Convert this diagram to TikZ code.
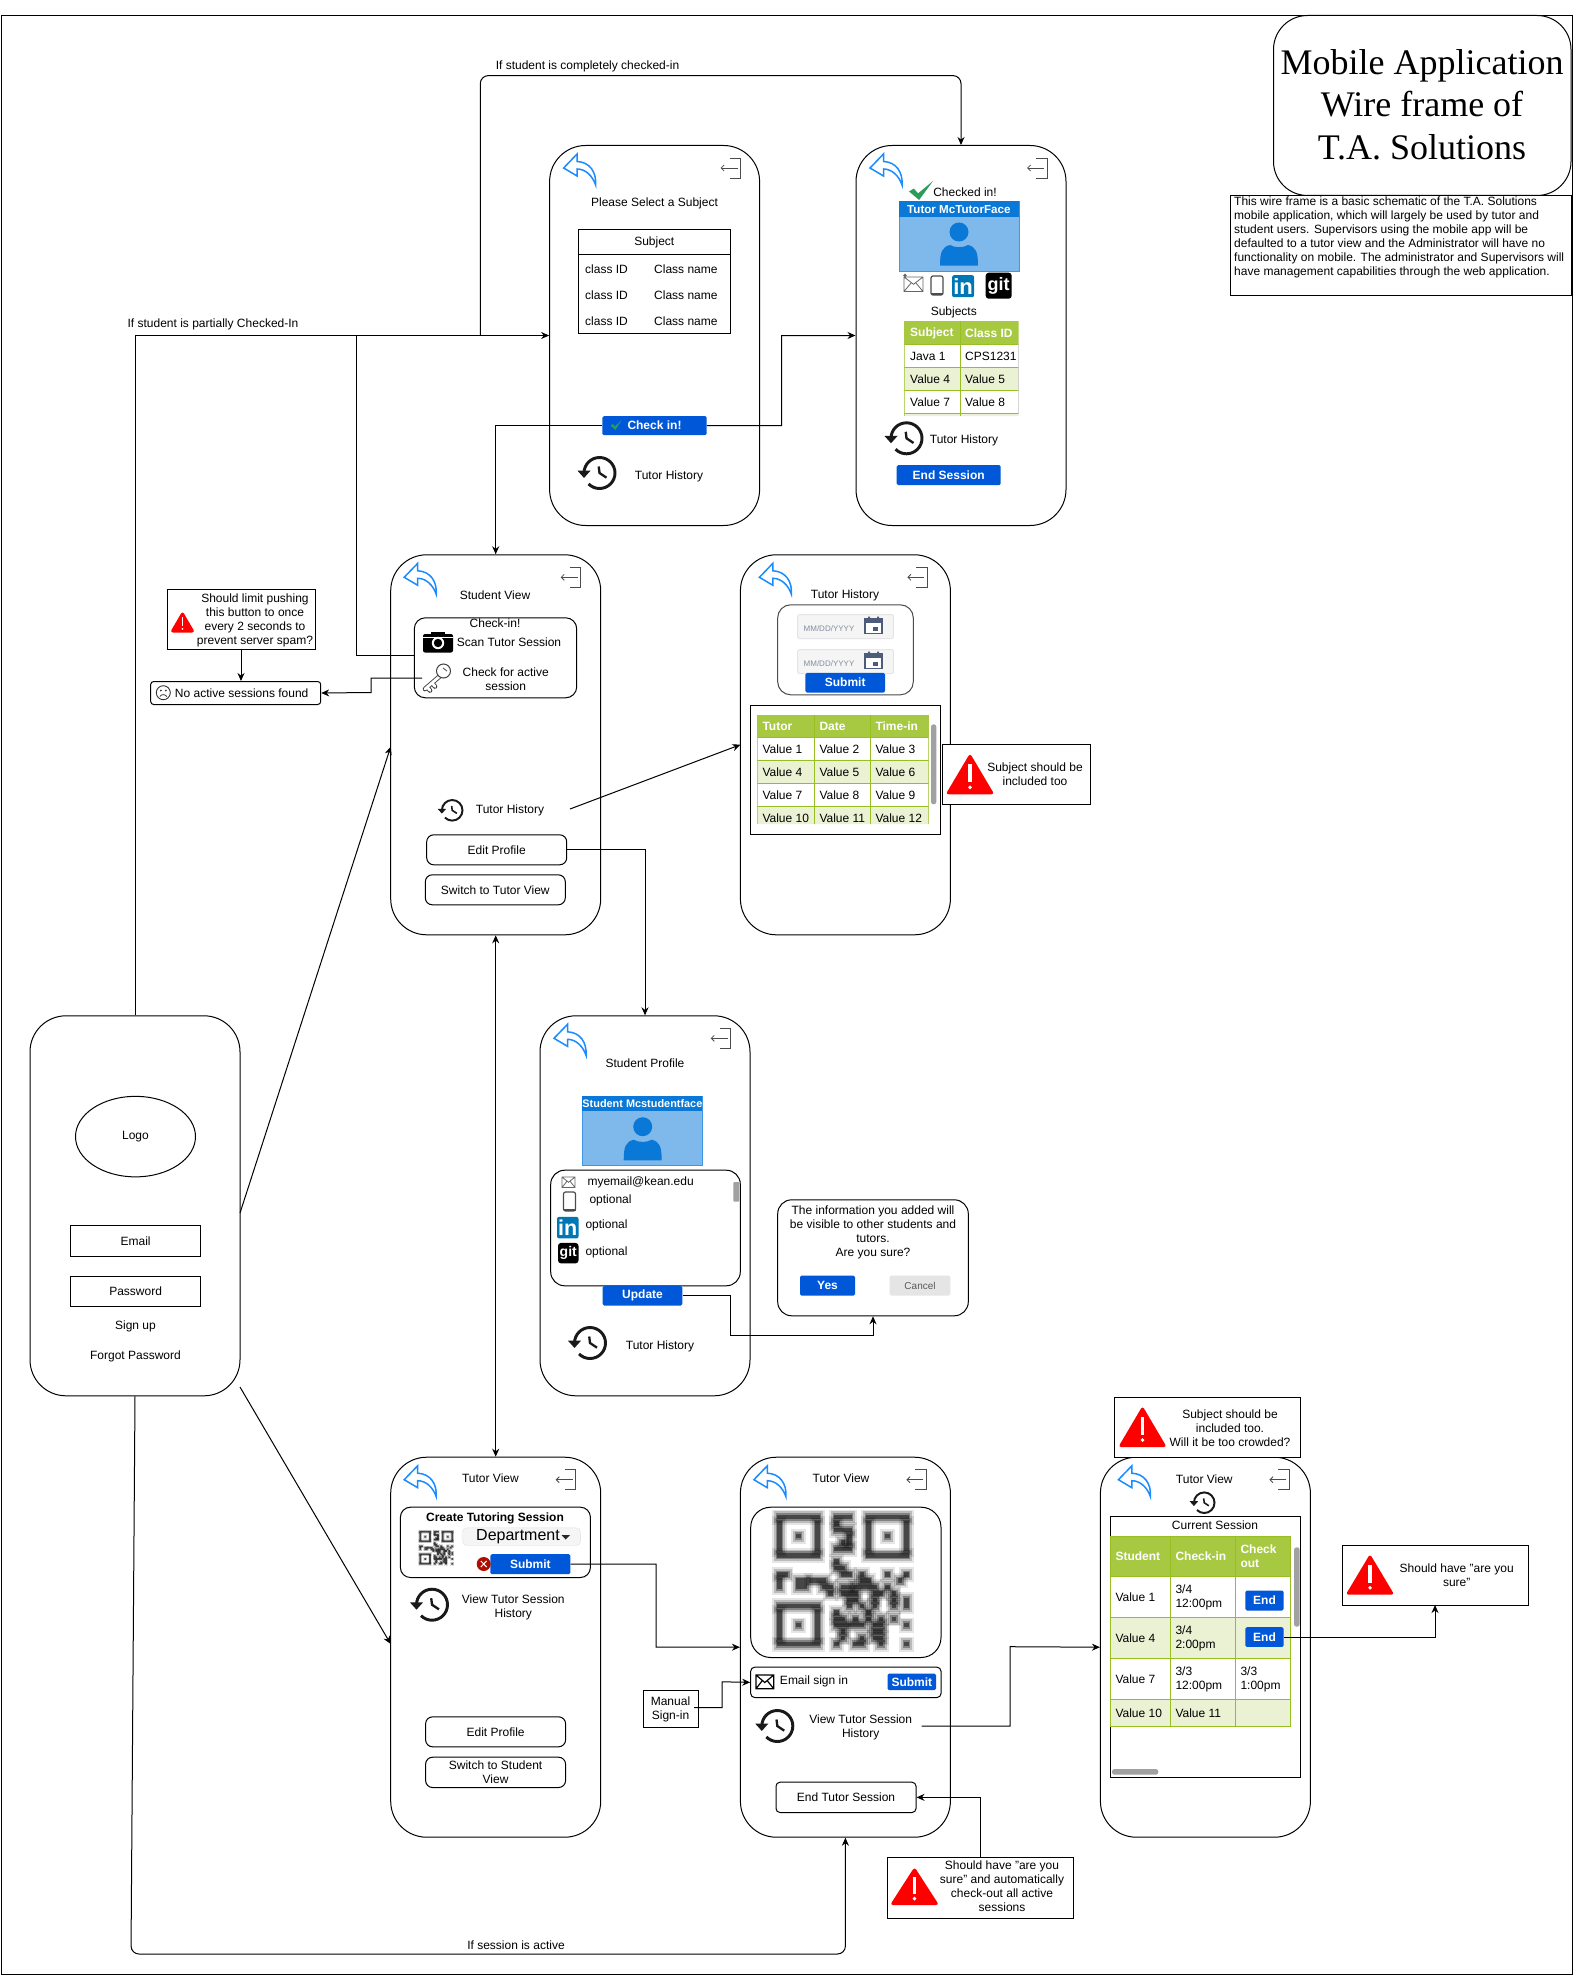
\documentclass[tikz,border=0pt]{standalone}
\usepackage{fontspec}
\setmainfont{Liberation Sans}
\newfontfamily\titlefont{Liberation Serif}
\usetikzlibrary{positioning,shapes.geometric,calc,arrows.meta}
\definecolor{btnblue}{HTML}{0057D8}
\definecolor{backblue}{HTML}{1A8CFF}
\definecolor{cardblue}{HTML}{7FB8EA}
\definecolor{cardedge}{HTML}{3D97E5}
\definecolor{personblue}{HTML}{0A78D6}
\definecolor{headgreen}{HTML}{A7C942}
\definecolor{altgreen}{HTML}{EAF2D3}
\definecolor{gridgreen}{HTML}{98BF21}
\definecolor{linkblue}{HTML}{0077B5}
\definecolor{calslate}{HTML}{4F5B7A}
\definecolor{tickgreen}{HTML}{2D9C5A}

\begin{document}
\begin{tikzpicture}[x=1pt,y=-1pt]

	\tikzset{every node/.style={inner sep=0pt,font=\fontsize{12}{14}\selectfont,align=center,yshift=-.6pt}}
	\tikzset{every coordinate node/.style={yshift=.6pt}}
	\tikzset{box/.style 2 args={anchor=north west,minimum width=#1 pt,minimum height=#2 pt,yshift=.6pt,xshift=-.5pt}}
	\tikzset{phonestyle/.style={draw,fill=white,line width=1pt,rounded corners=36pt,box={210}{380}}}
	\tikzset{framestyle/.style={draw,fill=white,line width=1pt}}
	\tikzset{softstyle/.style={framestyle,rounded corners=7pt}}
	\tikzset{btnstyle/.style={fill=btnblue,rounded corners=1.5pt,text=white,font=\fontsize{12}{14}\selectfont\bfseries}}
	\tikzset{lefttext/.style={anchor=west,align=left}}
	\tikzset{headtext/.style={lefttext,text=white,font=\fontsize{12}{14}\selectfont\bfseries}}
	\tikzset{linestyle/.style={line width=1pt}}
	\tikzset{arrowstyle/.style={linestyle,-{Stealth[length=8pt,width=7pt]}}}
	\tikzset{gridstyle/.style={gridgreen,line width=1pt}}
	\tikzset{backstyle/.style={backblue,line width=1.5pt,fill=white,line join=miter}}
	\tikzset{exitstyle/.style={black!70,line width=.8pt}}
	\tikzset{scrollstyle/.style={fill=black!37,rounded corners=2.5pt}}

	\newcommand\backIcon[2]
	{
		\draw[backstyle] (#1,#2+14) -- (#1+13.5,#2) -- (#1+13.5,#2+7.5)
		.. controls (#1+26,#2+8) and (#1+33,#2+18) .. (#1+32,#2+31)
		.. controls (#1+29,#2+22) and (#1+22,#2+15) .. (#1+13.5,#2+15)
		-- (#1+13.5,#2+22) -- cycle;
	}
	\newcommand\exitIcon[2]
	{
		\draw[exitstyle] (#1+9,#2) -- (#1+20,#2) -- (#1+20,#2+20) -- (#1+9,#2+20);
		\draw[exitstyle,-{Straight Barb[length=3pt,width=6pt]}] (#1+17,#2+10) -- (#1,#2+10);
	}
	\newcommand\makePhone[5] % {name}{left}{top}{back dx}{exit dx}
	{
		\node[phonestyle] at (#2,#3) (#1) {};
		\backIcon{#2+#4}{#3+9}
		\exitIcon{#2+#5}{#3+13}
	}
	\newcommand\historyIcon[3] % {x}{y}{radius}
	{
		\draw[line width=#3*0.19pt,black!90] (#1-#3,#2) arc (-180:135:#3);
		\fill[black!90] (#1-1.42*#3,#2-.15*#3) -- (#1-.58*#3,#2-.15*#3) -- (#1-#3,#2+.32*#3) -- cycle;
		\draw[line width=#3*0.15pt,black!90] (#1-.05*#3,#2-.42*#3) -- (#1,#2) -- (#1+.45*#3,#2+.3*#3);
	}
	\newcommand\tickIcon[5] % {x}{y}{w}{h}{colour}
	{
		\fill[#5] (#1,#2+.55*#4) -- (#1+.2*#3,#2+.4*#4) -- (#1+.38*#3,#2+.65*#4) -- (#1+#3,#2) -- (#1+.42*#3,#2+#4) -- cycle;
	}
	\newcommand\warnIcon[4] % {x}{y}{w}{h}
	{
		\fill[red,rounded corners=3pt] (#1+#3/2,#2) -- (#1+#3,#2+#4) -- (#1,#2+#4) -- cycle;
		\fill[white] (#1+.465*#3,#2+.26*#4) rectangle (#1+.535*#3,#2+.7*#4);
		\fill[white] (#1+#3/2,#2+.83*#4) circle[radius=.04*#3];
	}
	\newcommand\personIcon[2]
	{
		\fill[personblue] (#1,#2) circle[radius=9.5];
		\fill[personblue] (#1-19,#2+33.7) .. controls (#1-19,#2+20) and (#1-17,#2+15) .. (#1-9,#2+13)
		.. controls (#1-4,#2+16) and (#1+4,#2+16) .. (#1+9,#2+13)
		.. controls (#1+17,#2+15) and (#1+19,#2+20) .. (#1+19,#2+33.7) -- cycle;
	}
	\newcommand\makeCard[6] % {name}{left}{top}{width}{height}{text}
	{
		\node[box={#4}{#5},draw=cardedge,fill=cardblue,line width=1pt] at (#2,#3) (#1) {};
		\node[box={#4}{15.5},fill=personblue,text=white,font=\fontsize{11.6}{14}\selectfont\bfseries] at (#2,#3) (#1head) {#6};
	}
	\newcommand\mailIcon[4]
	{
		\draw[black!60,line width=.8pt] (#1,#2) rectangle (#1+#3,#2+#4)
		(#1,#2) -- (#1+#3/2,#2+#4/2) -- (#1+#3,#2)
		(#1,#2+#4) -- (#1+.38*#3,#2+.4*#4)
		(#1+#3,#2+#4) -- (#1+.62*#3,#2+.4*#4);
	}
	\newcommand\handsetIcon[4]
	{
		\draw[black!70,line width=1.2pt,rounded corners=2pt] (#1,#2) rectangle (#1+#3,#2+#4);
		\fill[black!70] (#1,#2+#4-2) rectangle (#1+#3,#2+#4);
	}
	\newcommand\linkIcon[4] % {name}{x}{y}{size}
	{
		\node[box={#4}{#4},fill=linkblue,rounded corners=2pt,text=white,font=\fontsize{#4}{#4}\selectfont\bfseries] at (#2,#3) (#1) {in};
	}
	\newcommand\gitIcon[5] % {name}{x}{y}{size}{font size}
	{
		\node[box={#4}{#4},fill=black,rounded corners=3pt,text=white,font=\fontsize{#5}{#5}\selectfont\bfseries] at (#2,#3) (#1) {git};
	}
	\newcommand\calIcon[2]
	{
		\draw[calslate,line width=1.6pt,fill=white] (#1,#2+2) rectangle (#1+17,#2+17);
		\fill[calslate] (#1,#2+2) rectangle (#1+17,#2+6);
		\fill[calslate] (#1+3,#2) rectangle (#1+5,#2+3) (#1+12,#2) rectangle (#1+14,#2+3);
		\fill[calslate] (#1+8,#2+10) rectangle (#1+13,#2+14);
	}
	\newcommand\dateField[2] % {name}{top}
	{
		\node[box={95.6}{24},draw=black!10,fill=black!4,line width=1pt,rounded corners=1.5pt] at (797.7,#2) (#1) {};
		\node[text=calslate!70,font=\fontsize{8}{10}\selectfont] at (829,#2+14) (#1text) {MM/DD/YYYY};
		\calIcon{865}{#2+2.5}
	}
	% rough module runs, row / first col / last col / last row, for a 21 wide code
	\newcommand\qrData{0/0/6/0,6/0/6/6,1/0/0/5,1/6/6/5,3/3/3/3,0/14/20/0,6/14/20/6,1/14/14/5,1/20/20/5,3/17/17/3,14/0/6/14,20/0/6/20,15/0/0/19,15/6/6/19,17/3/3/17,
		0/9/11/0,1/9/9/1,2/9/11/2,3/11/11/4,4/10/10/4,5/9/11/5,7/9/9/7,8/9/10/8,9/10/11/9,
		9/0/1/9,9/13/13/9,9/17/17/9,9/20/20/9,
		10/0/0/11,10/5/7/10,10/3/4/11,10/13/14/10,10/19/19/10,
		11/7/8/11,11/10/11/11,11/12/15/11,11/17/17/11,
		12/8/8/12,12/10/12/12,12/15/16/12,12/18/18/12,
		13/11/12/13,13/15/15/13,13/18/18/13,13/20/20/14,
		14/11/11/14,14/13/13/14,14/15/15/14,14/18/18/14,
		15/9/9/15,15/14/14/15,
		16/9/10/16,16/12/12/16,16/14/14/16,16/16/16/16,16/18/18/16,
		17/9/13/17,17/15/16/17,17/20/20/17,
		18/10/10/18,18/15/16/18,
		19/10/10/19,19/13/13/19,19/15/16/19,
		20/9/9/20,20/12/13/20,20/16/16/20,20/20/20/20}
	\newcommand\qrPass[5] % {x}{y}{module}{grow}{opacity}
	{
		\foreach \r/\a/\b/\e in \qrData
		{
			\fill[black,fill opacity=#5] (#1+\a*#3-#4,#2+\r*#3-#4) rectangle (#1+\b*#3+#3+#4,#2+\e*#3+#3+#4);
		}
	}
	\newcommand\qrCode[3]
	{
		\qrPass{#1}{#2}{#3}{#3*.7}{.1}
		\qrPass{#1}{#2}{#3}{#3*.4}{.18}
		\qrPass{#1}{#2}{#3}{#3*.1}{.3}
		\qrPass{#1}{#2}{#3}{-#3*.15}{.45}
	}

	\useasboundingbox (0,0) rectangle (1572,1977);
	\node[framestyle,box={1571}{1959}] at (1,15) (pageframe) {};

	\makePhone{subject}{549.6}{145}{14}{171}
	\makePhone{checked}{856}{145}{14}{171}
	\makePhone{student}{390.7}{554.3}{13.5}{170}
	\makePhone{history}{740.4}{554.3}{19}{167}
	\makePhone{profile}{540}{1015.3}{14}{170.7}
	\node[phonestyle] at (30,1015.3) (login) {};
	\makePhone{tutor}{390.7}{1456.7}{13.5}{165}
	\makePhone{qrview}{740.4}{1456.7}{13.5}{166}
	\makePhone{session}{1100.4}{1456.7}{18}{169}

	\node[framestyle,rounded corners=34pt,box={297.5}{180}] at (1273.5,15) (titlebox) {};
	\node[font=\titlefont\fontsize{36}{42.6}\selectfont] at (1422,104) (titletext) {Mobile Application\\Wire frame of\\T.A. Solutions};
	\node[framestyle,box={341}{100}] at (1230.5,195) (notebox) {};
	\node[anchor=north west,align=left] at (1234,196) (notetext) {This wire frame is a basic schematic of the T.A. Solutions\\mobile application, which will largely be used by tutor and\\student users. Supervisors using the mobile app will be\\defaulted to a tutor view and the Administrator will have no\\functionality on mobile. The administrator and Supervisors will\\have management capabilities through the web application.};

	% login
	\node[framestyle,ellipse,minimum width=120pt,minimum height=80.5pt] at (135.5,1136) (logo) {Logo};
	\node[framestyle,box={130}{30.5}] at (70.6,1225) (email) {Email};
	\node[framestyle,box={130}{30.5}] at (70.6,1275.6) (password) {Password};
	\node at (135.5,1325.5) (signup) {Sign up};
	\node at (135.5,1355.5) (forgot) {Forgot Password};

	% select a subject
	\node at (654.5,202.7) (subjecttitle) {Please Select a Subject};
	\node[framestyle,box={152.6}{104}] at (578,229) (subjecttable) {};
	\draw[linestyle] (578,255) -- (730.1,255);
	\node at (654.3,242) (subjecthead) {Subject};
	\foreach \y [count=\i] in {268.7,294.7,320.7}
	{
		\node[lefttext] at (585,\y) (classid\i) {class ID};
		\node[lefttext] at (654,\y) (classname\i) {Class name};
	}
	\node[btnstyle,box={104.4}{19}] at (602.6,416) (checkbtn) {Check in!};
	\tickIcon{610.7}{420}{11}{10}{tickgreen}
	\historyIcon{599.5}{473}{15.5}
	\node at (669,475.7) (subjecthistory) {Tutor History};

	% checked in
	\tickIcon{909}{181}{24}{19}{tickgreen}
	\node at (965,191.3) (checkedtext) {Checked in!};
	\makeCard{tutorcard}{899.3}{201.3}{119.7}{69.4}{Tutor McTutorFace}
	\personIcon{959}{232}
	\mailIcon{904}{277}{19}{14.5}
	\fill[black!60] (905,275.5) circle[radius=1.8];
	\handsetIcon{931}{276}{12}{19}
	\linkIcon{tutorlink}{952.4}{275}{22}
	\gitIcon{tutorgit}{986}{272.5}{26}{18}
	\node at (953.8,311.7) (subjectslabel) {Subjects};
	\begin{scope}
		\clip (904.3,321) rectangle (1018.5,416);
		\fill[headgreen] (904.3,321) rectangle (1018.5,344.3);
		\fill[altgreen] (904.3,367.3) rectangle (1018.5,390.3) (904.3,413.3) rectangle (1018.5,416);
		\foreach \y in {344.3,367.3,390.3,413.3}
		{
			\draw[gridstyle] (904.3,\y) -- (1018.5,\y);
		}
		\draw[gridstyle] (904.8,321) -- (904.8,416) (960.2,321) -- (960.2,416);
		\draw[black!25,line width=1pt] (1018,344.3) -- (1018,413);
	\end{scope}
	\node[headtext] at (910,333) (subjectcol) {Subject};
	\node[headtext] at (965,333) (classcol) {Class ID};
	\foreach \y/\a/\b [count=\i] in {356/Java 1/CPS1231,379/Value 4/Value 5,402/Value 7/Value 8}
	{
		\node[lefttext] at (910,\y) (checkeda\i) {\a};
		\node[lefttext] at (965,\y) (checkedb\i) {\b};
	}
	\historyIcon{906.5}{438.3}{15.5}
	\node at (964,440) (checkedhistory) {Tutor History};
	\node[btnstyle,box={104}{20}] at (897,465) (endbtn) {End Session};

	% student view
	\node at (495,594.7) (studenttitle) {Student View};
	\node[framestyle,rounded corners=11pt,box={162.4}{80}] at (414.3,617.3) (checkinbox) {};
	\node at (495,622.7) (checkinlabel) {Check-in!};
	\fill[black,rounded corners=2pt] (423,634) rectangle (453,652.5);
	\fill[black] (431,634.5) rectangle (445,631.7);
	\fill[white] (423,636.6) rectangle (453,637.2);
	\fill[white] (438,643) circle[radius=6.2];
	\fill[black] (438,643) circle[radius=4.2];
	\node at (509,641.7) (scanlabel) {Scan Tutor Session};
	\draw[black!75,line width=4.6pt,line cap=round] (440,676) -- (425,689) (427,687) -- (430,690.5) (432,683) -- (435,686.5);
	\draw[white,line width=2.8pt,line cap=round] (440,676) -- (425,689) (427,687) -- (430,690.5) (432,683) -- (435,686.5);
	\draw[black!75,line width=1pt,fill=white] (443.5,671) circle[radius=7];
	\draw[black!60,line width=1pt] (443,668) -- (447,671);
	\coordinate (keyout) at (422,678);
	\node at (505.7,678.7) (activelabel) {Check for active\\session};
	\historyIcon{452.2}{810.3}{10.3}
	\node at (510,809.7) (studenthistory) {Tutor History};
	\node[softstyle,box={140}{30}] at (426.7,834.3) (editprofile) {Edit Profile};
	\node[softstyle,box={140}{30}] at (425.3,874.3) (switchtutor) {Switch to Tutor View};

	% notes left of student view
	\node[framestyle,box={148.7}{60}] at (167,589.3) (limitnote) {};
	\warnIcon{170}{611}{25}{21.5}
	\node at (255,619.7) (limittext) {Should limit pushing\\this button to once\\every 2 seconds to\\prevent server spam?};
	\node[softstyle,rounded corners=3pt,box={170}{23}] at (150.7,681) (nosession) {};
	\draw[black!80,line width=.9pt] (163.3,692.7) circle[radius=7];
	\fill[black!80] (160.8,690.5) circle[radius=1] (165.8,690.5) circle[radius=1];
	\draw[black!80,line width=.8pt] (159.8,696.5) .. controls (161.5,694) and (165,694) .. (166.8,696.5);
	\node at (241.7,693) (nosessiontext) {No active sessions found};

	% tutor history
	\node at (845,594.7) (historytitle) {Tutor History};
	\node[framestyle,draw=black!70,rounded corners=13pt,box={135.6}{90}] at (777.7,604.3) (rangebox) {};
	\dateField{fromdate}{614}
	\dateField{todate}{649}
	\node[btnstyle,box={79.6}{19.6}] at (805.7,672.7) (rangesubmit) {Submit};
	\node[framestyle,box={189.6}{129.6}] at (750.7,704.7) (historybox) {};
	\begin{scope}
		\clip (757.3,714.7) rectangle (928.7,824);
		\fill[headgreen] (757.3,714.7) rectangle (928.7,737.3);
		\fill[altgreen] (757.3,760.3) rectangle (928.7,783.3) (757.3,806.3) rectangle (928.7,824);
		\foreach \y in {737.3,760.3,783.3,806.3}
		{
			\draw[gridstyle] (757.3,\y) -- (928.7,\y);
		}
		\foreach \x in {757.8,814.3,870.7,928.2}
		{
			\draw[gridstyle] (\x,714.7) -- (\x,824);
		}
		\foreach \x/\a/\b/\c [count=\i] in {762.3/Value 1/Value 4/Value 7,819.3/Value 2/Value 5/Value 8,875.3/Value 3/Value 6/Value 9}
		{
			\node[lefttext] at (\x,748.7) (histrowa\i) {\a};
			\node[lefttext] at (\x,771.7) (histrowb\i) {\b};
			\node[lefttext] at (\x,794.7) (histrowc\i) {\c};
		}
		\node[lefttext] at (762.3,817.7) (histrowd1) {Value 10};
		\node[lefttext] at (819.3,817.7) (histrowd2) {Value 11};
		\node[lefttext] at (875.3,817.7) (histrowd3) {Value 12};
	\end{scope}
	\node[headtext] at (762.3,725.7) (tutorcol) {Tutor};
	\node[headtext] at (819.3,725.7) (datecol) {Date};
	\node[headtext] at (875.3,725.7) (timecol) {Time-in};
	\fill[scrollstyle] (931,724.3) rectangle (936.3,804.3);
	\node[framestyle,box={148.4}{60}] at (942.3,744.3) (subjectnote) {};
	\warnIcon{945.7}{753.3}{48.6}{41}
	\node at (1035,774) (subjectnotetext) {Subject should be\\included too};

	% student profile
	\node at (645,1062.7) (profiletitle) {Student Profile};
	\makeCard{studentcard}{582.7}{1095.7}{120}{69.6}{\fontsize{10.9}{14}\selectfont Student Mcstudentface}
	\personIcon{642.7}{1126.7}
	\node[framestyle,rounded corners=14pt,box={189.6}{115.6}] at (550.7,1169.7) (infobox) {};
	\mailIcon{562}{1177}{13}{10.5}
	\node[lefttext] at (587.3,1181.7) (infomail) {myemail@kean.edu};
	\handsetIcon{563.5}{1192}{12}{19}
	\node[lefttext] at (589.3,1200) (infophone) {optional};
	\linkIcon{infolink}{557.3}{1216.7}{21.5}
	\node[lefttext] at (585.3,1225) (infolinktext) {optional};
	\gitIcon{infogit}{558.3}{1242.7}{20.5}{14}
	\node[lefttext] at (585.3,1252) (infogittext) {optional};
	\fill[scrollstyle,rounded corners=1pt] (733.3,1182) rectangle (739.3,1201.7);
	\node[btnstyle,box={79.7}{19.6}] at (603,1285.7) (updatebtn) {Update};
	\historyIcon{590}{1343}{15.5}
	\node at (660,1345.7) (profilehistory) {Tutor History};

	\node[framestyle,rounded corners=14pt,box={190.6}{116}] at (777.7,1199.3) (confirmbox) {};
	\node at (873,1232) (confirmtext) {The information you added will\\be visible to other students and\\tutors.\\Are you sure?};
	\node[btnstyle,box={55}{20}] at (800.3,1275.3) (yesbtn) {Yes};
	\node[box={60.7}{20},fill=black!10,rounded corners=1.5pt,text=black!65,font=\fontsize{10}{12}\selectfont] at (890,1275.3) (cancelbtn) {Cancel};

	% tutor view
	\node at (490.4,1477.7) (tutortitle) {Tutor View};
	\node[framestyle,rounded corners=10pt,box={190}{70.3}] at (400.4,1506.7) (createbox) {};
	\node[font=\fontsize{12}{14}\selectfont\bfseries] at (495,1517.7) (createlabel) {Create Tutoring Session};
	\qrCode{419.6}{1531}{1.6}
	\node[box={117.7}{17.6},draw=black!12,fill=black!4,rounded corners=4pt] at (463,1527.7) (deptbox) {};
	\node[font=\fontsize{16}{18}\selectfont,anchor=west] at (476,1536.3) (depttext) {Department};
	\fill[black!85] (561.5,1535) -- (570,1535) -- (565.7,1539.5) -- cycle;
	\node[btnstyle,box={80}{20}] at (490.7,1554) (createsubmit) {Submit};
	\fill[red!65!black!90!orange] (483.7,1564) circle[radius=7];
	\draw[white,line width=1pt] (480.8,1561) -- (486.6,1567) (480.8,1567) -- (486.6,1561);
	\historyIcon{432}{1604.7}{15.5}
	\node at (513.3,1606.7) (tutorhistory) {View Tutor Session\\History};
	\node[softstyle,box={140}{30}] at (425.6,1716.3) (tutoredit) {Edit Profile};
	\node[softstyle,box={140}{30.3}] at (425.6,1756.7) (switchstudent) {Switch to Student\\View};

	% qr view
	\node at (841,1477.7) (qrtitle) {Tutor View};
	\node[framestyle,rounded corners=20pt,box={190.3}{150.3}] at (750.7,1506.7) (qrbox) {};
	\qrCode{776.3}{1514}{6.35}
	\node[softstyle,rounded corners=4pt,box={190.3}{30.3}] at (750.7,1666.7) (emailbox) {};
	\draw[black,line width=1.2pt] (756,1675) rectangle (773.7,1688.7) (756,1675) -- (764.8,1682.5) -- (773.7,1675) (756,1688.7) -- (762,1681) (773.7,1688.7) -- (767.5,1681);
	\node at (814,1681) (emaillabel) {Email sign in};
	\node[btnstyle,box={48.3}{16.7}] at (888,1673.3) (emailsubmit) {Submit};
	\node[framestyle,box={55}{37}] at (643,1690) (manualbox) {Manual\\Sign-in};
	\historyIcon{777.3}{1726}{15.5}
	\node at (860.7,1726.7) (qrhistory) {View Tutor Session\\History};
	\node[softstyle,rounded corners=4pt,box={140}{30.3}] at (776,1781.7) (endtutor) {End Tutor Session};

	% current session
	\node at (1204.3,1478.7) (sessiontitle) {Tutor View};
	\historyIcon{1204.2}{1502.7}{10.3}
	\node[framestyle,box={189.6}{260.7}] at (1110.7,1516) (sessionbox) {};
	\node at (1215,1524.7) (sessionlabel) {Current Session};
	\fill[headgreen] (1110.2,1536) rectangle (1290.2,1576.7);
	\fill[altgreen] (1110.2,1617.3) rectangle (1290.2,1658.3) (1110.2,1699.3) rectangle (1290.2,1726.7);
	\draw[gridstyle] (1110.2,1536) rectangle (1290.2,1726.7);
	\foreach \y in {1576.7,1617.3,1658.3,1699.3}
	{
		\draw[gridstyle] (1110.2,\y) -- (1290.2,\y);
	}
	\foreach \x in {1170.3,1235.3}
	{
		\draw[gridstyle] (\x,1536) -- (\x,1726.7);
	}
	\node[headtext] at (1115.3,1555.7) (studentcol) {Student};
	\node[headtext] at (1175.3,1555.7) (checkincol) {Check-in};
	\node[headtext] at (1240.3,1555.7) (checkoutcol) {Check\\out};
	\node[lefttext] at (1115.3,1596.7) (rowa1) {Value 1};
	\node[lefttext] at (1175.3,1596.7) (rowa2) {3/4\\12:00pm};
	\node[lefttext] at (1115.3,1637.7) (rowb1) {Value 4};
	\node[lefttext] at (1175.3,1637.7) (rowb2) {3/4\\2:00pm};
	\node[lefttext] at (1115.3,1678.7) (rowc1) {Value 7};
	\node[lefttext] at (1175.3,1678.7) (rowc2) {3/3\\12:00pm};
	\node[lefttext] at (1240.3,1678.7) (rowc3) {3/3\\1:00pm};
	\node[lefttext] at (1115.3,1712.7) (rowd1) {Value 10};
	\node[lefttext] at (1175.3,1712.7) (rowd2) {Value 11};
	\node[btnstyle,box={38.3}{20}] at (1245.7,1590.3) (endone) {End};
	\node[btnstyle,box={38.3}{19.7}] at (1245.7,1627) (endtwo) {End};
	\fill[scrollstyle] (1294,1547.3) rectangle (1299.7,1626.7);
	\fill[scrollstyle] (1112,1769) rectangle (1158.3,1774.7);

	% notes
	\node[framestyle,box={185.6}{60}] at (1114.7,1396.7) (crowdnote) {};
	\warnIcon{1118.3}{1406}{48.4}{41}
	\node at (1230,1428) (crowdtext) {Subject should be\\included too.\\Will it be too crowded?};
	\node[framestyle,box={186.3}{60}] at (1342,1545) (suretop) {};
	\warnIcon{1345.7}{1554}{48.6}{40.7}
	\node at (1456.7,1575) (suretoptext) {Should have "are you\\sure"};
	\node[framestyle,box={185.5}{60.5}] at (887.5,1857) (surebottom) {};
	\warnIcon{890}{1867}{49}{38}
	\node at (1002,1885.5) (surebottomtext) {Should have "are you\\sure" and automatically\\check-out all active\\sessions};

	% connectors
	\draw[arrowstyle] (login.north) |- (subject.west);
	\node at (213,324) (partiallabel) {If student is partially Checked-In};
	\coordinate (completestart) at (480.3,335);
	\coordinate (completetop) at (480.3,75.6);
	\draw[arrowstyle,rounded corners=8pt] (completestart) -- (completetop) -| (checked.north);
	\node at (587.5,65.5) (completelabel) {If student is completely checked-in};
	\coordinate (scanout) at (414,655.3);
	\coordinate (scanturn) at (356,335);
	\draw[linestyle] (scanout) -| (scanturn);
	\draw[arrowstyle] (checkbtn.west) -| (student.north);
	\coordinate (checkturn) at (781.5,425.5);
	\draw[arrowstyle] (checkbtn.east) -- (checkturn) |- (checked.west);
	\coordinate (limitout) at (241,649.3);
	\draw[arrowstyle] (limitout) -- (limitout |- nosession.north);
	\coordinate (keyturn) at (371,678);
	\coordinate (keydown) at (371,692.5);
	\draw[arrowstyle] (keyout) -- (keyturn) -- (keydown) -- (nosession.east);
	\coordinate (loginup) at (240,1213);
	\coordinate (studentin) at (390.7,746.7);
	\draw[arrowstyle] (loginup) -- (studentin);
	\coordinate (historyout) at (570,809);
	\coordinate (historyin) at (740.4,744.7);
	\draw[arrowstyle] (historyout) -- (historyin);
	\draw[arrowstyle] (editprofile.east) -| (profile.north);
	\coordinate (updateturn) at (730.3,1335.3);
	\draw[arrowstyle] (updatebtn.east) -| (updateturn) -| (confirmbox.south);
	\draw[linestyle,{Stealth[length=8pt,width=7pt]}-{Stealth[length=8pt,width=7pt]}] (student.south) -- (tutor.north);
	\coordinate (logindown) at (240,1387);
	\coordinate (tutorin) at (390.7,1644);
	\draw[arrowstyle] (logindown) -- (tutorin);
	\coordinate (bottomturn) at (131,1954);
	\draw[arrowstyle,rounded corners=8pt] (login.south) -- (bottomturn) -| (qrview.south);
	\node at (516,1945) (activelabeltwo) {If session is active};
	\coordinate (submitturn) at (656,1647);
	\draw[arrowstyle] (createsubmit.east) -| (submitturn) -- (qrview.west);
	\coordinate (manualout) at (694,1707.7);
	\coordinate (manualturn) at (722,1681.8);
	\draw[arrowstyle] (manualout) -| (manualturn) -- (emailbox.west);
	\coordinate (qrout) at (921.5,1726);
	\coordinate (qrturn) at (1010,1646.7);
	\draw[arrowstyle] (qrout) -| (qrturn) -- (session.west);
	\coordinate (surein) at (980,1857);
	\draw[arrowstyle] (surein) |- (endtutor.east);
	\coordinate (sureout) at (1435,1605);
	\draw[arrowstyle] (endtwo.east) -| (sureout);

\end{tikzpicture}
\end{document}
